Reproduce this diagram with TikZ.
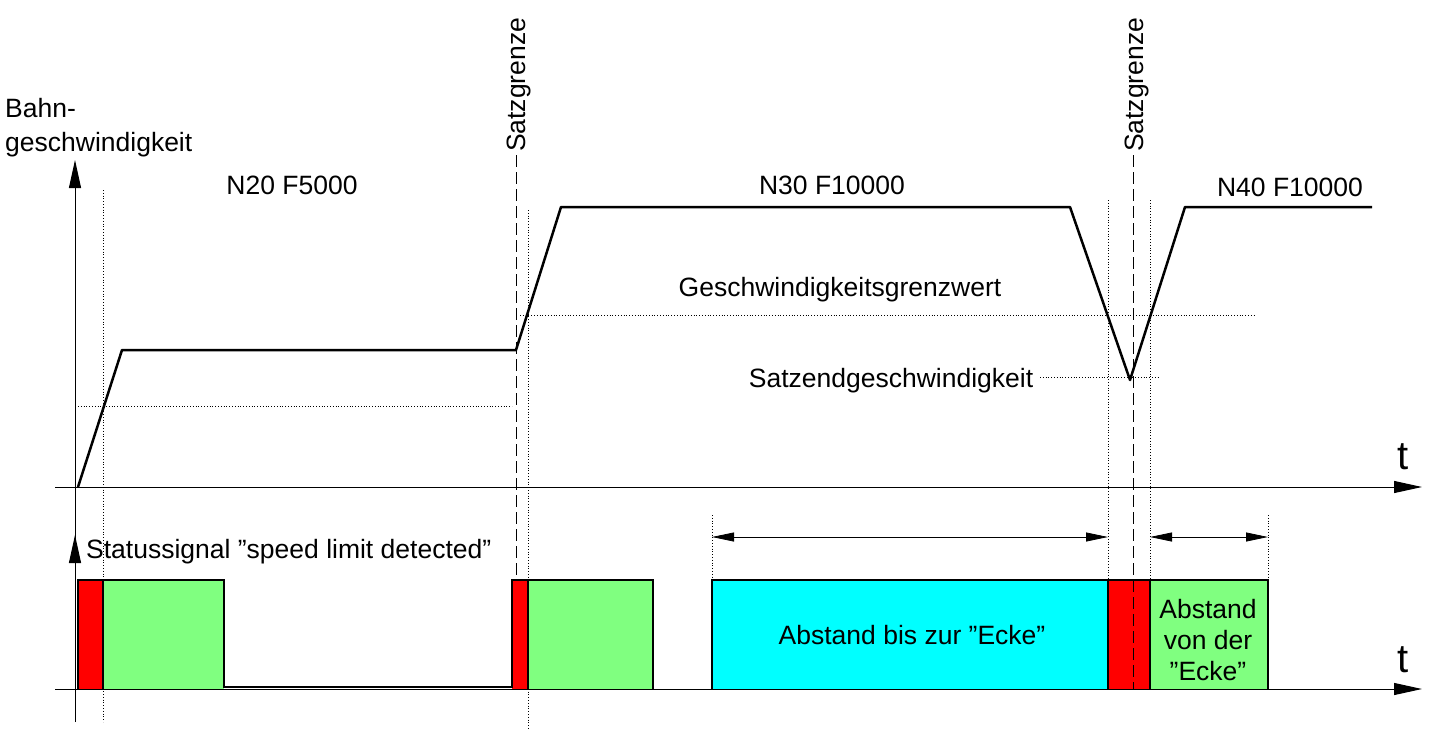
\documentclass[tikz,border=0pt]{standalone}
\usepackage{fontspec}
\setmainfont{Liberation Sans}
\usetikzlibrary{arrows.meta}
\newcommand{\qq}{\char"22\relax}
\begin{document}
\begin{tikzpicture}[x=1pt,y=-1pt,
  lbl/.style={font=\fontsize{26.5}{30}\selectfont, inner sep=0pt},
  dots/.style={dotted, line width=0.8pt},
  dsh/.style={dash pattern=on 12pt off 5pt, line width=0.8pt},
  ax/.style={line width=1pt, -{Triangle[length=28pt,width=12pt]}},
  prof/.style={line width=2.5pt, line join=round},
  bar/.style={draw=black, line width=1.2pt},
  dim/.style={line width=0.8pt, {Triangle[length=22pt,width=9pt]}-{Triangle[length=22pt,width=9pt]}}]
\useasboundingbox (0,0) rectangle (1437,734);
% bars
\fill[red] (78,580) rectangle (103,689);
\fill[green!50!white] (103,580) rectangle (224,689);
\fill[red] (512,580) rectangle (528,689);
\fill[green!50!white] (528,580) rectangle (653,689);
\fill[cyan!100!white, fill={rgb,255:red,0;green,255;blue,255}] (712,580) rectangle (1108,689);
\fill[red] (1108,580) rectangle (1150,689);
\fill[green!50!white] (1150,580) rectangle (1268,689);
\draw[bar] (78,689) -- (78,580) -- (224,580) -- (224,687) -- (512,687) -- (512,580) -- (653,580) -- (653,689);
\draw[bar] (103,580) -- (103,689);
\draw[bar] (528,580) -- (528,689);
\draw[bar] (712,689) -- (712,580) -- (1268,580) -- (1268,689);
\draw[bar] (1108,580) -- (1108,689);
\draw[bar] (1150,580) -- (1150,689);
% axes
\coordinate (o1) at (75,720); \coordinate (y1) at (75,160);
\draw[ax] (o1) -- (y1);
\coordinate (h1a) at (55,487); \coordinate (h1b) at (1422,487);
\draw[ax] (h1a) -- (h1b);
\coordinate (o2) at (75,722); \coordinate (y2) at (75,535);
\draw[ax] (o2) -- (y2);
\coordinate (h2a) at (55,689); \coordinate (h2b) at (1422,689);
\draw[ax] (h2a) -- (h2b);
\node[lbl, font=\fontsize{40}{44}\selectfont] (t1) at (1403,457) {t};
\node[lbl, font=\fontsize{40}{44}\selectfont] (t2) at (1403,660) {t};
% dotted guides
\draw[dots] (103,190) -- (103,722);
\draw[dots] (78,406) -- (512,406);
\draw[dots] (528,210) -- (528,730);
\draw[dots] (520,315) -- (1255,315);
\draw[dots] (1108,200) -- (1108,580);
\draw[dots] (1150,200) -- (1150,580);
\draw[dots] (712,515) -- (712,580);
\draw[dots] (1268,515) -- (1268,580);
\draw[dots] (1040,377) -- (1160,377);
% dashed block limits
\draw[dsh] (516,155) -- (516,580);
\draw[dsh] (1133,155) -- (1133,689);
\node[lbl, rotate=90, anchor=west] (s1) at (519,152) {Satzgrenze};
\node[lbl, rotate=90, anchor=west] (s2) at (1137,152) {Satzgrenze};
% profile
\draw[prof] (78,487) -- (122,350) -- (516,350) -- (561,207) -- (1070,207) -- (1130,380) -- (1185,207) -- (1372,207);
% dims
\coordinate (d1) at (712,537); \coordinate (d2) at (1108,537);
\coordinate (d3) at (1150,537); \coordinate (d4) at (1268,537);
\draw[dim] (d1) -- (d2);
\draw[dim] (d3) -- (d4);
% labels
\node[lbl, align=left, anchor=north west, font=\fontsize{26.5}{34}\selectfont] (bg) at (5,98) {Bahn-\\geschwindigkeit};
\node[lbl] (n20) at (292,185) {N20 F5000};
\node[lbl] (n30) at (832,185) {N30 F10000};
\node[lbl] (n40) at (1290,187) {N40 F10000};
\node[lbl] (gg) at (840,290) {Geschwindigkeitsgrenzwert};
\node[lbl] (sg) at (891,381) {Satzendgeschwindigkeit};
\node[lbl, anchor=west] (st) at (86,552) {Statussignal \qq speed limit detected\qq};
\node[lbl] (ab) at (912,635) {Abstand bis zur \qq Ecke\qq};
\node[lbl, align=center, font=\fontsize{26.5}{31}\selectfont] (av) at (1208,640) {Abstand\\von der\\\qq Ecke\qq};
\end{tikzpicture}
\end{document}
